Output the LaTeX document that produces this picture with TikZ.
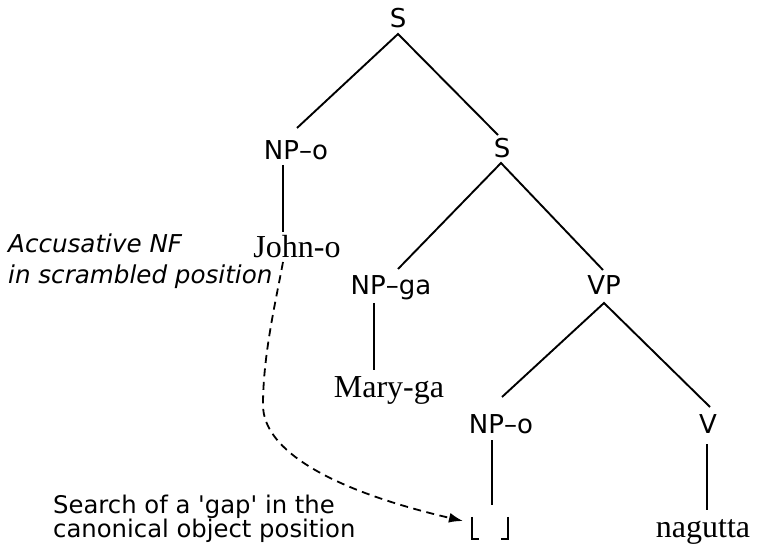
\documentclass[tikz,border=0pt]{standalone}
\usepackage{fontspec}
\setmainfont{Liberation Serif}
\newfontfamily\labfont{DejaVu Sans}[Ligatures=TeXOff]
\usetikzlibrary{arrows.meta}
\tikzset{
  x=1pt, y=-1pt,
  cat/.style={font=\labfont\fontsize{26}{30}\selectfont, inner sep=0pt, anchor=base},
  word/.style={font=\fontsize{32}{36}\selectfont, inner sep=0pt, anchor=base},
  note/.style={font=\labfont\fontsize{24.6}{31}\selectfont\itshape, inner sep=0pt, anchor=north west, align=left},
  note2/.style={font=\labfont\fontsize{24.3}{24}\selectfont, inner sep=0pt, anchor=north west, align=left},
  branch/.style={line width=1.9pt},
  move/.style={line width=1.8pt, dash pattern=on 8pt off 5.5pt, -{Latex[length=14pt,width=10pt]}},
}
\begin{document}
\begin{tikzpicture}
\useasboundingbox (0,0) rectangle (758,545);
% tree labels
\node[cat] (S1) at (398,28) {S};
\node[cat] (NPo1) at (296,160) {NP–o};
\node[cat] (S2) at (502,158) {S};
\node[cat] (NPga) at (391,295) {NP–ga};
\node[cat] (VP) at (604,295) {VP};
\node[cat] (NPo2) at (501,433) {NP–o};
\node[cat] (V) at (708,433) {V};
\node[word] (John) at (297,258) {John-o};
\node[word] (Mary) at (389,397) {Mary-ga};
\node[word] (nag) at (703,537) {nagutta};
\node[inner sep=0pt, minimum width=35pt, minimum height=22pt] (gap) at (490,528) {};
\draw[line width=1.7pt] (gap.north west) -- (gap.south west) -- ++(7,0);
\draw[line width=1.7pt] (gap.north east) -- (gap.south east) -- ++(-7,0);
% notes
\node[note] (acc) at (8,234) {Accusative NF\\in scrambled position};
\node[note2] (srch) at (53,494.5) {Search of a 'gap' in the\\canonical object position};
% connector end points
\coordinate (S1-b) at (398,34);
\coordinate (NPo1-t) at (297,128);
\coordinate (S2-t) at (498,135);
\coordinate (S2-b) at (501,163);
\coordinate (NPga-t) at (398,269);
\coordinate (VP-t) at (603,270);
\coordinate (NPo1-b) at (283,165);
\coordinate (John-t) at (283,232);
\coordinate (NPga-b) at (374,303);
\coordinate (Mary-t) at (374,370);
\coordinate (VP-b) at (604,303);
\coordinate (NPo2-t) at (502,397);
\coordinate (V-t) at (710,407);
\coordinate (NPo2-b) at (492,440);
\coordinate (gap-t) at (492,505);
\coordinate (V-b) at (707,444);
\coordinate (nag-t) at (707,510);
\coordinate (John-b) at (283,262);
\coordinate (bend) at (263,405);
\coordinate (arr-end) at (463,521);
% branches
\draw[branch] (NPo1-t) -- (S1-b) -- (S2-t);
\draw[branch] (NPga-t) -- (S2-b) -- (VP-t);
\draw[branch] (NPo1-b) -- (John-t);
\draw[branch] (NPga-b) -- (Mary-t);
\draw[branch] (NPo2-t) -- (VP-b) -- (V-t);
\draw[branch] (NPo2-b) -- (gap-t);
\draw[branch] (V-b) -- (nag-t);
% movement arrow
\draw[move] (John-b) .. controls (276,300) and (263,355) .. (bend)
  .. controls (263,450) and (330,490) .. (arr-end);
\end{tikzpicture}
\end{document}
